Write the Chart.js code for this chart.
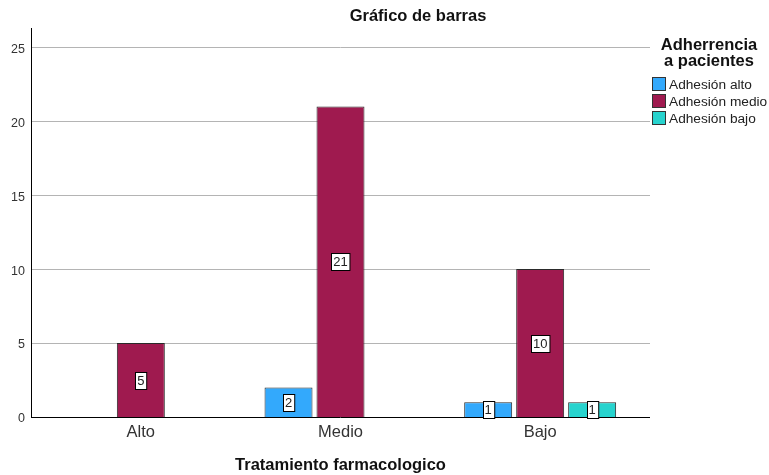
<!DOCTYPE html>
<html>
<head>
<meta charset="utf-8">
<script src="https://cdn.jsdelivr.net/npm/chart.js@4.4.1/dist/chart.umd.min.js"></script>
<style>
  html, body { margin: 0; padding: 0; background: #fff; }
  #wrap { width: 769px; height: 475px; }
</style>
</head>
<body>
<div id="wrap"><canvas id="bars"></canvas></div>
<script>
// categories and series
var categories = ['Alto', 'Medio', 'Bajo'];
var seriesNames = ['Adhesión alto', 'Adhesión medio', 'Adhesión bajo'];
var adhesionAlto = [null, 2, 1];
var adhesionMedio = [5, 21, 10];
var adhesionBajo = [null, null, 1];
var yTicks = [0, 5, 10, 15, 20, 25];
var colors = ['#33a9fc', '#9f1a4f', '#27d3ce'];

var FONT = '"Liberation Sans", Arial, sans-serif';
var AXIS_LEFT = 31, AXIS_RIGHT = 650;

// grid lines and axis lines run a bit wider than the category band
var frame = {
	id: 'frame',
	beforeDatasetsDraw: function(chart) {
		var ctx = chart.ctx, y = chart.scales.y;
		ctx.save();
		ctx.lineWidth = 1;
		ctx.strokeStyle = '#b4b4b4';
		yTicks.forEach(function(v) {
			if (v === 0) return;
			var py = Math.round(y.getPixelForValue(v)) + 0.5;
			ctx.beginPath();
			ctx.moveTo(AXIS_LEFT, py);
			ctx.lineTo(AXIS_RIGHT, py);
			ctx.stroke();
		});
		ctx.restore();
	},
	afterDatasetsDraw: function(chart) {
		var ctx = chart.ctx, area = chart.chartArea;
		ctx.save();
		ctx.lineWidth = 1;
		ctx.strokeStyle = '#000';
		ctx.beginPath();
		ctx.moveTo(AXIS_LEFT + 0.5, area.top);
		ctx.lineTo(AXIS_LEFT + 0.5, area.bottom);
		ctx.moveTo(AXIS_LEFT, Math.round(area.bottom) + 0.5);
		ctx.lineTo(AXIS_RIGHT, Math.round(area.bottom) + 0.5);
		ctx.stroke();
		ctx.restore();
	}
};

// white boxed value labels in the middle of each bar
var boxLabels = {
	id: 'boxLabels',
	afterDatasetsDraw: function(chart) {
		var ctx = chart.ctx;
		ctx.save();
		ctx.font = '13px ' + FONT;
		ctx.textAlign = 'center';
		ctx.textBaseline = 'middle';
		chart.data.datasets.forEach(function(ds, i) {
			chart.getDatasetMeta(i).data.forEach(function(bar, j) {
				var v = ds.data[j];
				if (v == null) return;
				var txt = String(v);
				var w = ctx.measureText(txt).width + 4;
				var h = 17;
				var cy = (bar.y + bar.base) / 2;
				var x0 = Math.round(bar.x - w / 2) + 0.5;
				var y0 = Math.round(cy - h / 2) + 0.5;
				ctx.fillStyle = '#fff';
				ctx.fillRect(x0, y0, w, h);
				ctx.strokeStyle = '#000';
				ctx.lineWidth = 1;
				ctx.strokeRect(x0, y0, w, h);
				ctx.fillStyle = '#222';
				ctx.fillText(txt, bar.x, cy + 1);
			});
		});
		ctx.restore();
	}
};

// title and legend
var sideText = {
	id: 'sideText',
	afterDraw: function(chart) {
		var ctx = chart.ctx;
		ctx.save();
		ctx.fillStyle = '#111';
		ctx.textAlign = 'center';
		ctx.textBaseline = 'middle';
		ctx.font = 'bold 16.5px ' + FONT;
		ctx.fillText('Gráfico de barras', 418, 16);
		ctx.fillText('Adherrencia', 709, 45);
		ctx.fillText('a pacientes', 709, 61);
		ctx.textAlign = 'left';
		ctx.font = '13.7px ' + FONT;
		chart.data.datasets.forEach(function(ds, i) {
			var y = 84 + i * 17;
			ctx.fillStyle = ds.backgroundColor;
			ctx.fillRect(652.5, y - 6.5, 13, 13);
			ctx.strokeStyle = '#333';
			ctx.lineWidth = 1;
			ctx.strokeRect(652.5, y - 6.5, 13, 13);
			ctx.fillStyle = '#222';
			ctx.fillText(ds.label, 669, y + 1);
		});
		ctx.restore();
	}
};

var bars = document.getElementById('bars').getContext('2d');
var myChart = new Chart(bars, {
	type: 'bar',
	data: {
		labels: categories,
		datasets: [
			{ label: seriesNames[0], data: adhesionAlto, backgroundColor: colors[0], borderColor: '#2a2a2a', borderWidth: 1 },
			{ label: seriesNames[1], data: adhesionMedio, backgroundColor: colors[1], borderColor: '#2a2a2a', borderWidth: 1 },
			{ label: seriesNames[2], data: adhesionBajo, backgroundColor: colors[2], borderColor: '#2a2a2a', borderWidth: 1 }
		]
	},
	options: {
		responsive: true,
		maintainAspectRatio: false,
		animation: false,
		categoryPercentage: 0.781,
		barPercentage: 0.923,
		layout: { padding: { top: 28, right: 129, left: 0, bottom: 0 } },
		plugins: {
			legend: { display: false },
			title: { display: false },
			tooltip: { enabled: false }
		},
		scales: {
			x: {
				grid: { display: false, drawTicks: false },
				border: { display: false },
				ticks: { color: '#333', font: { family: FONT, size: 16.5 }, padding: 6 },
				title: {
					display: true,
					text: 'Tratamiento farmacologico',
					color: '#111',
					font: { family: FONT, size: 16.5, weight: 'bold' },
					padding: { top: 0, bottom: 0 }
				},
				afterFit: function(s) { s.height = 58; }
			},
			y: {
				min: 0,
				max: 26.3,
				afterBuildTicks: function(s) {
					s.ticks = yTicks.map(function(v) { return { value: v }; });
				},
				grid: { display: false, drawTicks: false },
				border: { display: false },
				ticks: { color: '#333', font: { family: FONT, size: 12.5 }, padding: 16, labelOffset: 2 },
				afterFit: function(s) { s.width = 41; }
			}
		}
	},
	plugins: [frame, boxLabels, sideText]
});
</script>
</body>
</html>
